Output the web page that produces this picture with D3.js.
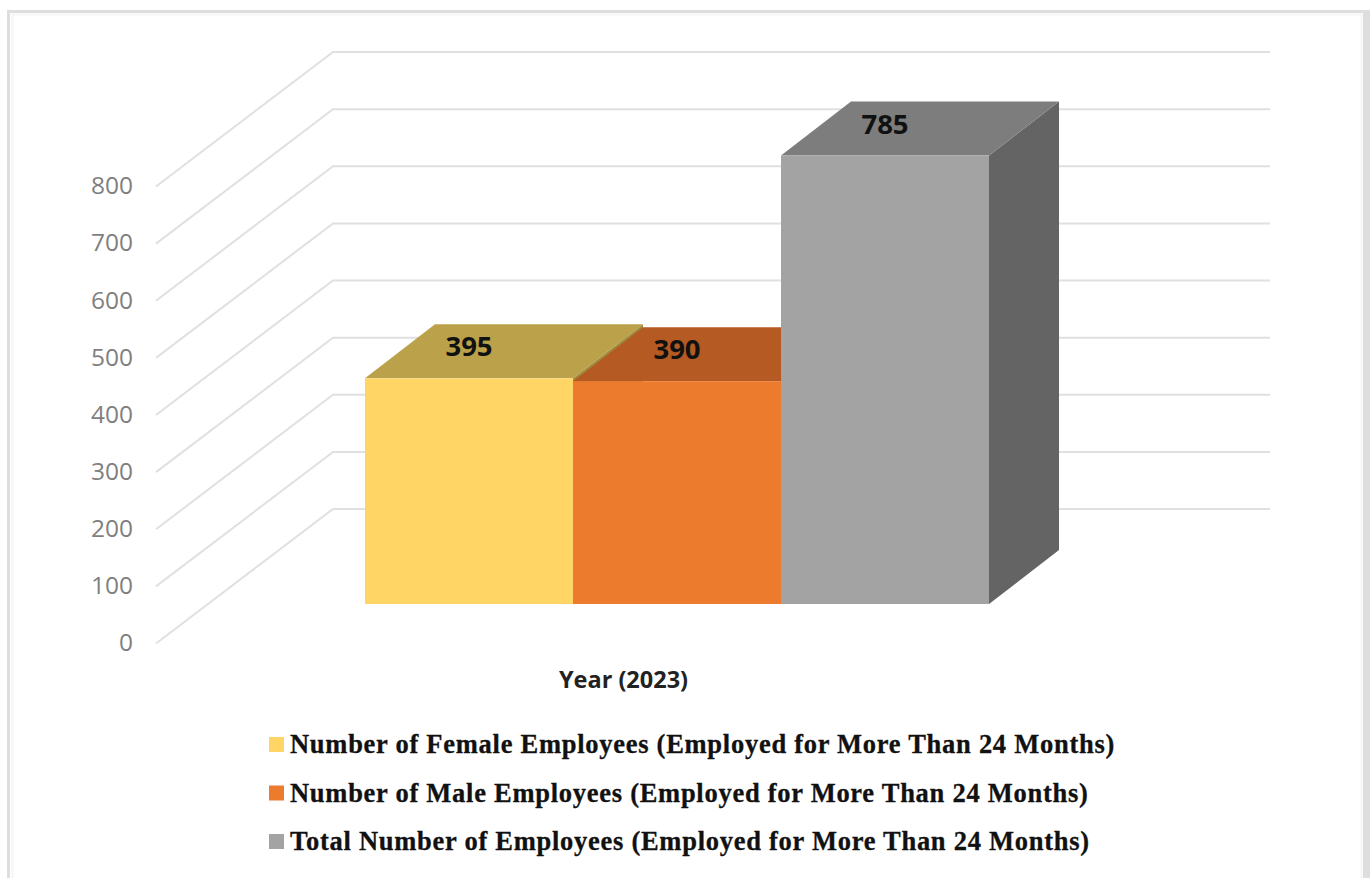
<!DOCTYPE html>
<html>
<head>
<meta charset="utf-8">
<script src="https://cdn.jsdelivr.net/npm/d3@7/dist/d3.min.js"></script>
<style>
html,body{margin:0;padding:0;background:#fff;overflow:hidden}
svg{display:block}
</style>
</head>
<body>
<svg id="chart" width="1370" height="878"></svg>
<script>
// Employee counts for 2023
const seriesNames = [
  "Number of Female Employees (Employed for More Than 24 Months)",
  "Number of Male Employees (Employed for More Than 24 Months)",
  "Total Number of Employees (Employed for More Than 24 Months)"
];
const seriesValues = [395, 390, 785];
const frontColors = ["#FFD566", "#EC7B2E", "#A3A3A3"];
const topColors = ["#BBA24A", "#B55A22", "#7D7D7D"];
const sideColors = ["#A08A3C", "#98491A", "#646464"];
const legendColors = ["#FFD566", "#EC7B2E", "#A3A3A3"];
const yTicks = [0, 100, 200, 300, 400, 500, 600, 700, 800];
const categoryLabel = "Year (2023)";

const svg = d3.select("#chart");

// Panel frame, open along the bottom edge and running off the right side
svg.append("path")
  .attr("d", "M12.5 878V14.5H1361.5V878")
  .attr("fill", "none").attr("stroke", "#f6f6f6").attr("stroke-width", 2);
svg.append("rect")
  .attr("x", 1363).attr("y", 10).attr("width", 7).attr("height", 868)
  .attr("fill", "#dedede");
svg.append("path")
  .attr("d", "M8.5 878V11.5H1364")
  .attr("fill", "none").attr("stroke", "#dedede").attr("stroke-width", 3);

// Oblique projection: the back wall is offset from the front of the floor
const wallY = d3.scaleLinear().domain([0, 800]).range([509, 52]);
const unitHeight = v => wallY(0) - wallY(v);
const wallLeft = 333, wallRight = 1270;
const floorDx = 177, floorDy = 134.5;

const grid = svg.append("g")
  .attr("fill", "none").attr("stroke", "#e0e0e0").attr("stroke-width", 2);
grid.selectAll("path").data(yTicks).join("path")
  .attr("d", d => {
    const p = d3.path();
    p.moveTo(wallLeft - floorDx, wallY(d) + floorDy);
    p.lineTo(wallLeft, wallY(d));
    p.lineTo(wallRight, wallY(d));
    return p.toString();
  });

// Value axis sits along the front edge of the left wall
const frontY = d3.scaleLinear().domain([0, 800]).range([wallY(0) + 134, wallY(800) + 134]);
const axis = d3.axisLeft(frontY).tickValues(yTicks).tickSize(0).tickPadding(0).tickFormat(d3.format("d"));
const axisG = svg.append("g").attr("transform", "translate(133,0)").call(axis);
axisG.select(".domain").remove();
axisG.selectAll("text")
  .attr("font-family", "'Open Sans', sans-serif")
  .attr("font-size", 24.5)
  .attr("fill", "#7f7f7f");

// Blocks: painted left to right so each one overlaps its neighbour's side
const x = d3.scaleBand().domain(d3.range(seriesValues.length)).range([365, 989]).padding(0);
const baseY = 604, depthX = 70, depthY = 54;
const poly = pts => d3.line()(pts) + "Z";

const blocks = svg.selectAll("g.block").data(seriesValues).join("g").attr("class", "block");
blocks.each(function (v, i) {
  const g = d3.select(this);
  const x0 = x(i), x1 = x0 + x.bandwidth();
  const top = baseY - unitHeight(v);
  g.append("path").attr("fill", sideColors[i])
    .attr("d", poly([[x1, top], [x1 + depthX, top - depthY], [x1 + depthX, baseY - depthY], [x1, baseY]]));
  g.append("path").attr("fill", topColors[i])
    .attr("d", poly([[x0, top], [x1, top], [x1 + depthX, top - depthY], [x0 + depthX, top - depthY]]));
  g.append("rect").attr("fill", frontColors[i])
    .attr("x", x0).attr("y", top).attr("width", x.bandwidth()).attr("height", baseY - top);
});

// Value labels rest on the top face of each block
svg.selectAll("text.value").data(seriesValues).join("text")
  .attr("class", "value")
  .attr("x", (d, i) => x(i) + x.bandwidth() / 2)
  .attr("y", d => baseY - unitHeight(d) - 22)
  .attr("text-anchor", "middle")
  .attr("font-family", "'Open Sans', sans-serif")
  .attr("font-weight", 700)
  .attr("font-size", 27.5)
  .attr("fill", "#111")
  .text(d => d);

svg.append("text")
  .attr("x", 623.5).attr("y", 688)
  .attr("text-anchor", "middle")
  .attr("font-family", "'Open Sans', sans-serif")
  .attr("font-weight", 700)
  .attr("font-size", 23.5)
  .attr("fill", "#222")
  .text(categoryLabel);

// Legend rows
const legendY = d3.scalePoint().domain(d3.range(seriesNames.length)).range([745, 842]);
const legend = svg.selectAll("g.legend").data(seriesNames).join("g")
  .attr("class", "legend")
  .attr("transform", (d, i) => `translate(0,${legendY(i)})`);
legend.append("rect")
  .attr("x", 269).attr("y", -8).attr("width", 15).attr("height", 15)
  .attr("fill", (d, i) => legendColors[i]);
legend.append("text")
  .attr("x", 290).attr("y", 8)
  .attr("font-family", "'Liberation Serif', serif")
  .attr("font-weight", 700)
  .attr("font-size", 26.5)
  .attr("letter-spacing", 0.73)
  .attr("stroke", "#111").attr("stroke-width", 0.3)
  .attr("fill", "#111")
  .text(d => d);
</script>
</body>
</html>
